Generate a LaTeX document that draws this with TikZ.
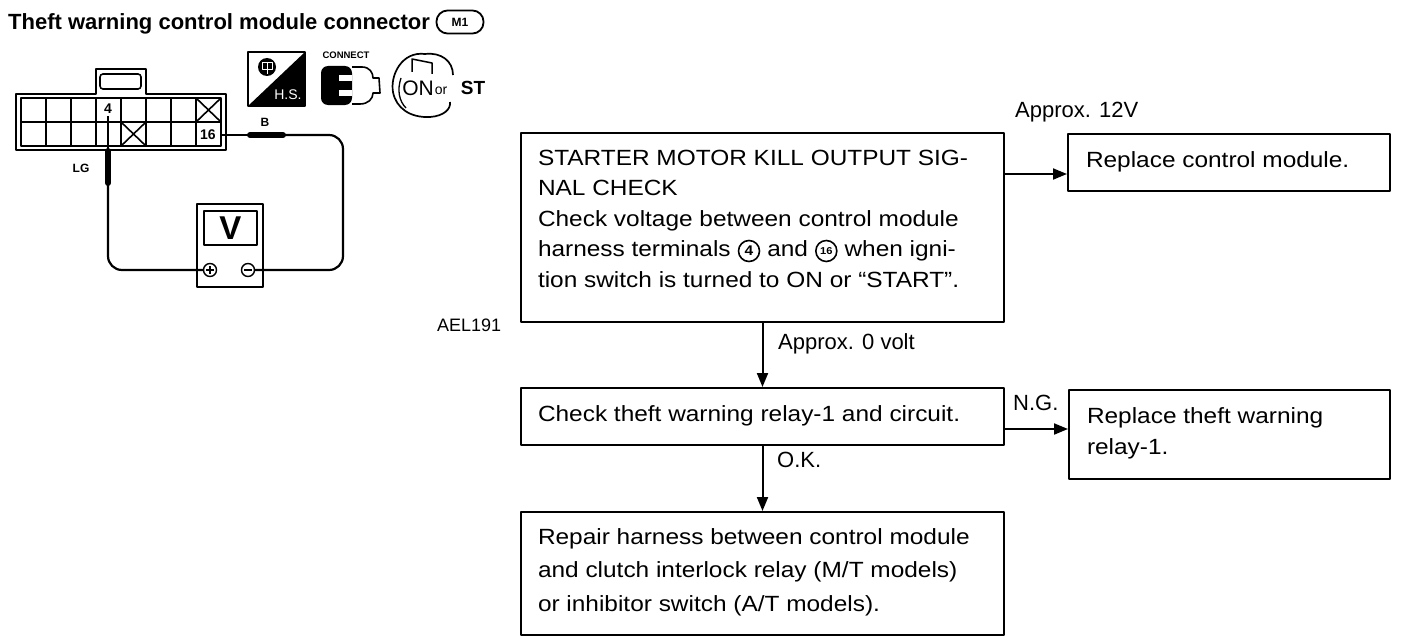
\documentclass[tikz,border=0pt]{standalone}
\usepackage{fontspec}
\usepackage{pict2e}
\setmainfont{Liberation Sans}
\newfontfamily\bodyf[FakeStretch=1.11]{Liberation Sans}
\usetikzlibrary{arrows.meta}
\newcommand{\circnum}[2]{\makebox[23pt]{\setlength{\unitlength}{1pt}\begin{picture}(0,0)\linethickness{1.6pt}\put(0,5.5){\circle{21}}\put(0,5.5){\makebox(0,0){\bfseries\fontsize{#2}{#2}\selectfont #1}}\end{picture}}}
\newcommand{\boxtxt}[2]{\makebox[#1][l]{\begin{tabular}[t]{@{}l@{}}#2\end{tabular}}}
\tikzset{
  box/.style={draw, line width=2pt, anchor=north west, inner xsep=17pt, inner ysep=0pt,
    font=\bodyf\fontsize{22}{30.5}\selectfont},
  lbl/.style={anchor=base west, inner sep=0pt, font=\fontsize{22}{26}\selectfont},
  arr/.style={line width=2pt, -{Triangle[length=14pt,width=11pt]}},
  wire/.style={line width=2.2pt, rounded corners=14pt},
  probe/.style={line width=6pt, line cap=round},
  thin/.style={line width=1.6pt},
  tiny/.style={inner sep=0pt, font=\bfseries\fontsize{12}{12}\selectfont},
  term/.style={draw, circle, line width=1.4pt, minimum size=13pt, inner sep=0pt},
}
\begin{document}
\begin{tikzpicture}[x=1pt, y=-1pt, line join=round]
\useasboundingbox (0,0) rectangle (1408,642);

% ---------- title ----------
\node[anchor=base west, inner sep=0pt, font=\bfseries\fontsize{22}{22}\selectfont] (title) at (8,30) {Theft warning control module connector};
\node[draw, line width=1.8pt, rounded corners=11pt, minimum width=47pt, minimum height=23pt, inner sep=0pt,
      font=\bfseries\fontsize{12}{12}\selectfont] (m1) at (460,22) {M1};

% ---------- connector ----------
\draw[line width=2pt] (16,94) -- (96,94) -- (96,69) -- (146,69) -- (146,94) -- (226,94) -- (226,150) -- (16,150) -- cycle;
\draw[thin, rounded corners=3pt] (100,74) rectangle (141,89);
\draw[thin] (21,98) rectangle (221,146);
\draw[thin] (21,122) -- (221,122);
\foreach \xx in {46,71,96,121,146,171,196} \draw[thin] (\xx,98) -- (\xx,146);
\draw[thin] (196,98) -- (221,122) (196,122) -- (221,98);
\draw[thin] (121,122) -- (146,146) (121,146) -- (146,122);
\node[tiny, font=\bfseries\fontsize{14}{14}\selectfont, fill=white, inner sep=1pt] (c4) at (108,109) {4};
\node[tiny, font=\bfseries\fontsize{14}{14}\selectfont] (c16) at (208,135) {16};
\node[tiny] (lg) at (81,168) {LG};
\node[tiny] (lb) at (265,122) {B};

% ---------- voltmeter ----------
\node[draw, line width=1.5pt, minimum width=66pt, minimum height=83pt, inner sep=0pt] (meter) at (230,245.5) {};
\node[draw, line width=1.5pt, minimum width=53pt, minimum height=34pt, inner sep=0pt,
      font=\bfseries\fontsize{33}{33}\selectfont] (disp) at (230.5,228) {V};
\node[term] (plus) at (210,270) {};
\node[term] (minus) at (248,270) {};
\draw[line width=1.4pt] (plus.center) +(-4,0) -- +(4,0) +(0,-4) -- +(0,4);
\draw[line width=1.4pt] (minus.center) +(-4,0) -- +(4,0);

% ---------- probes and wires ----------
\coordinate (pa) at (108,116);
\coordinate (pb) at (108,183);
\draw[line width=2pt] (pa) -- (108,150);
\draw[probe] (108,151) -- (pb);
\draw[wire] (pb) -- (108,270) -- (plus.west);
\coordinate (qa) at (221,135);
\coordinate (qb) at (283,135);
\draw[line width=2pt] (qa) -- (250,135);
\draw[probe] (250,135) -- (qb);
\draw[wire] (qb) -- (343,135) -- (343,270) -- (minus.east);

% ---------- icons ----------
% H.S.
\draw[line width=1.6pt] (248,52) rectangle (305,106);
\fill (305,52) -- (305,106) -- (248,106) -- cycle;
\node[inner sep=0pt, text=white, font=\fontsize{14}{14}\selectfont] (hs) at (288,95) {H.S.};
\fill (267,67) circle (9);
\draw[white, line width=1pt] (262,63) rectangle (272,70) (267,63) -- (267,74);
% CONNECT
\node[inner sep=0pt, font=\bfseries\fontsize{9.5}{10}\selectfont] (cn1) at (346,55) {CONNECT};
\fill[rounded corners=7pt] (321,66) rectangle (352,105);
\fill[white] (339,75) rectangle (352,81);
\fill[white] (339,90) rectangle (352,96);
\draw[line width=1.6pt] (352,67) -- (362,67) .. controls (370,67) and (373,73) .. (373,78) -- (379,78) -- (380,93) -- (373,93) .. controls (373,99) and (368,104) .. (360,104) -- (352,104);
% ignition key
\draw[line width=1.7pt] (425,54) .. controls (402,51) and (390,75) .. (393,92) .. controls (396,108) and (410,118) .. (430,117) .. controls (444,116) and (451,109) .. (450,102);
\draw[line width=1.7pt] (425,54) .. controls (441,52) and (453,61) .. (453,75);
\draw[line width=1.5pt] (412,72) -- (412,59) -- (432,63) -- (432,74);
\draw[line width=1.3pt] (401,78) .. controls (397,90) and (399,101) .. (406,108);
\node[inner sep=0pt, font=\fontsize{21}{21}\selectfont] (on) at (418,88) {ON};
\node[inner sep=1pt, fill=white, font=\fontsize{14}{14}\selectfont] (or) at (441,91) {or};
\node[inner sep=0pt, font=\bfseries\fontsize{19}{19}\selectfont] (st) at (473,88) {ST};

\node[anchor=base west, inner sep=0pt, font=\fontsize{18}{18}\selectfont] (ael) at (437,331) {AEL191};

% ---------- flowchart ----------
\node[box, text height=32pt, text depth=157pt] (b1) at (520,132)
  {\boxtxt{449pt}{STARTER MOTOR KILL OUTPUT SIG-\\NAL CHECK\\Check voltage between control module\\harness terminals \circnum{4}{14} and \circnum{16}{10} when igni-\\tion switch is turned to ON or “START”.}};
\node[box, text height=33pt, text depth=24pt] (b2) at (520,387)
  {\boxtxt{449pt}{Check theft warning relay-1 and circuit.}};
\node[box, text height=32pt, text depth=91pt, font=\bodyf\fontsize{22}{33.5}\selectfont] (b3) at (520,511)
  {\boxtxt{449pt}{Repair harness between control module\\and clutch interlock relay (M/T models)\\or inhibitor switch (A/T models).}};
\node[box, inner xsep=18pt, text height=33pt, text depth=24pt] (r1) at (1067,133)
  {\boxtxt{286pt}{Replace control module.}};
\node[box, inner xsep=18pt, text height=33pt, text depth=56pt, font=\bodyf\fontsize{22}{31}\selectfont] (r2) at (1068,389)
  {\boxtxt{285pt}{Replace theft warning\\relay-1.}};

\coordinate (y1) at (0,174);
\coordinate (y2) at (0,429);
\draw[arr] (b1.south) -- (b2.north);
\draw[arr] (b2.south) -- (b3.north);
\draw[arr] (b1.east |- y1) -- (r1.west |- y1);
\draw[arr] (b2.east |- y2) -- (r2.west |- y2);

\node[lbl] (l0) at (778,349) {Approx. 0 volt};
\node[lbl] (lok) at (777,467) {O.K.};
\node[lbl] (l12) at (1015,117) {Approx. 12V};
\node[lbl] (lng) at (1013,410) {N.G.};
\end{tikzpicture}
\end{document}
